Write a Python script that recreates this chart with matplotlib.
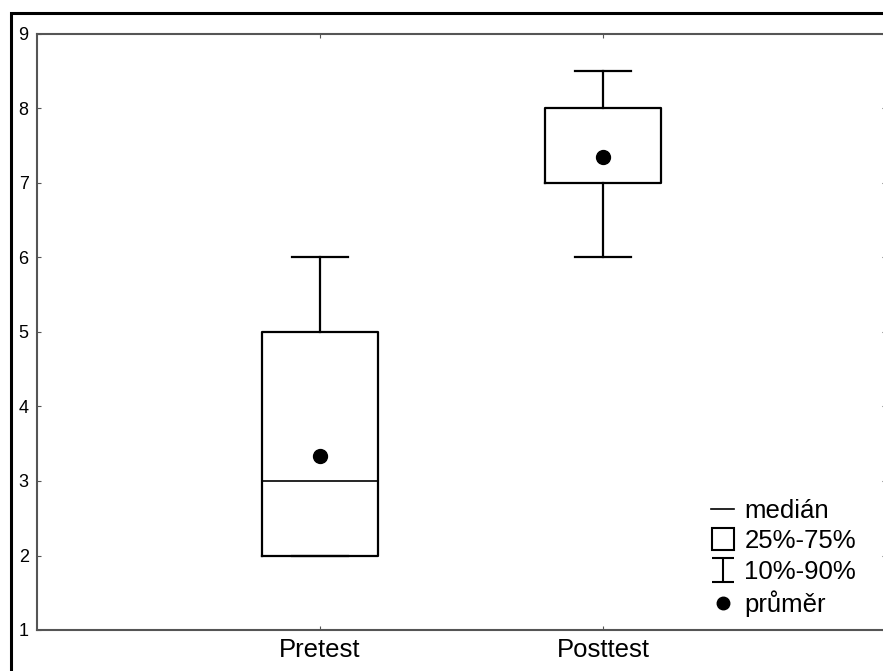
import numpy as np
import matplotlib.pyplot as plt
from matplotlib.lines import Line2D
from matplotlib.path import Path
from matplotlib.patches import Rectangle

plt.rcParams['font.family'] = ['Liberation Sans', 'DejaVu Sans']

# data
groups = ['Pretest', 'Posttest']
q10 = [2, 6]
q25 = [2, 7]
medians = [3, 7]
q75 = [5, 8]
q90 = [6, 8.5]
means = [3.33, 7.35]
y_ticks = [1, 2, 3, 4, 5, 6, 7, 8, 9]
legend_labels = ['medián', '25%-75%', '10%-90%', 'průměr']

stats = []
for i in range(len(groups)):
    stats.append({'label': groups[i], 'whislo': q10[i], 'q1': q25[i], 'med': medians[i],
                  'q3': q75[i], 'whishi': q90[i], 'mean': means[i], 'fliers': []})

fig = plt.figure(figsize=(8.83, 6.71), dpi=100)
ax = fig.add_axes([37/883, 1-630/671, 849/883, 596/671])

# outer frame (cut by the picture edge on the right and bottom)
fig.patches.append(Rectangle((11/883, -0.1), 1.2, 1.1 - 13/671, transform=fig.transFigure,
                             fill=False, edgecolor='black', linewidth=2.2, zorder=-1))

lw = 1.6
ax.bxp(stats, positions=[1, 2], widths=0.41, capwidths=0.2, showmeans=True, showfliers=False,
       boxprops=dict(color='black', linewidth=lw),
       whiskerprops=dict(color='black', linewidth=lw),
       capprops=dict(color='black', linewidth=lw),
       medianprops=dict(color='black', linewidth=1.2),
       meanprops=dict(marker='o', markerfacecolor='black', markeredgecolor='black', markersize=10))

ax.set_xlim(0, 3)
ax.set_ylim(1, 9)
ax.set_yticks(y_ticks)
ax.set_xticks([1, 2])
ax.set_xticklabels(groups)
ax.tick_params(axis='x', labelsize=18.5, pad=6, direction='in', length=3, top=True, color='#555555')
ax.tick_params(axis='y', labelsize=13, pad=6, direction='in', length=3, right=True, color='#555555')
for s in ax.spines.values():
    s.set_color('#555555')
    s.set_linewidth(1.5)

# legend with drawn symbols
ibeam = Path([(-0.9, -1), (0.9, -1), (0, -1), (0, 1), (-0.9, 1), (0.9, 1)],
             [Path.MOVETO, Path.LINETO, Path.MOVETO, Path.LINETO, Path.MOVETO, Path.LINETO])
handles = [
    Line2D([], [], color='black', linewidth=1.2),
    Line2D([], [], marker='s', linestyle='none', markersize=16, markerfacecolor='none',
           markeredgecolor='black', markeredgewidth=1.5),
    Line2D([], [], marker=ibeam, linestyle='none', markersize=17, markerfacecolor='none',
           markeredgecolor='black', markeredgewidth=1.5),
    Line2D([], [], marker='o', linestyle='none', markersize=9, color='black'),
]
ax.legend(handles, legend_labels, loc='lower right', bbox_to_anchor=(0.986, -0.008),
          frameon=False, fontsize=18.5, handlelength=0.9, handletextpad=0.4,
          labelspacing=0.25, borderaxespad=0.3)

fig.savefig('out.png', dpi=100)
